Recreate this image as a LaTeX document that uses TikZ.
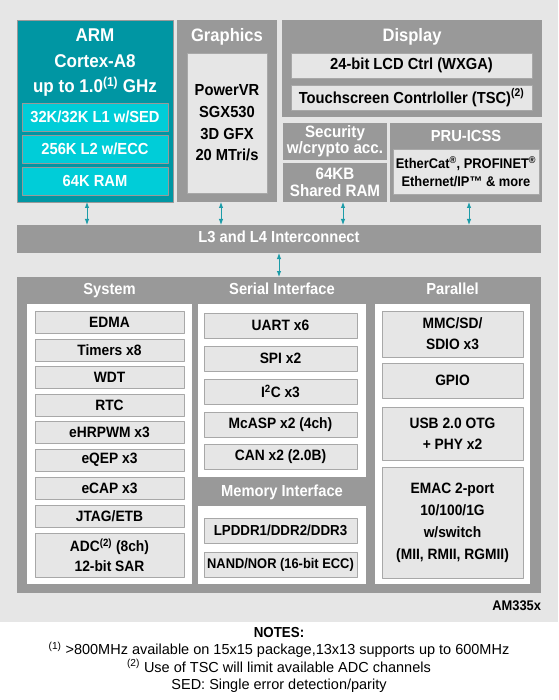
\documentclass[tikz,border=0pt]{standalone}
\usepackage{fontspec}
\setmainfont{Liberation Sans}[FakeStretch=0.92]
\newfontfamily\notefont{Liberation Sans}
\usetikzlibrary{arrows.meta}
\definecolor{bgray}{HTML}{E6E6E6}
\definecolor{pgray}{HTML}{999999}
\definecolor{lgray}{HTML}{E6E6E6}
\definecolor{edgegray}{HTML}{A8A8A8}
\definecolor{armteal}{HTML}{0096A3}
\definecolor{cachecyan}{HTML}{00CDD8}
\definecolor{linkteal}{HTML}{1C9CA8}
\begin{document}
\begin{tikzpicture}[x=1pt, y=-1pt, line cap=round, line join=round,
    every node/.style={inner sep=0pt, outer sep=0pt, font=\bfseries},
    sz/.style 2 args={minimum width=#1pt, minimum height=#2pt, anchor=north west},
    panel/.style={fill=pgray},
    inset/.style={fill=white},
    unit/.style={fill=lgray, draw=edgegray, line width=0.8pt, align=center,
      font=\fontsize{15}{21}\selectfont\bfseries},
    cache/.style={fill=cachecyan, draw=pgray, line width=0.8pt, text=white,
      font=\fontsize{16}{20}\selectfont\bfseries},
    head/.style={text=white, text height=11.5pt, text depth=3.5pt,
      font=\fontsize{16}{20}\selectfont\bfseries},
    bighead/.style={text=white, text height=13pt, text depth=4pt,
      font=\fontsize{18}{22}\selectfont\bfseries},
    link/.style={linkteal, line width=0.9pt,
      {Latex[length=6pt,width=4.5pt]}-{Latex[length=6pt,width=4.5pt]}}]
  \useasboundingbox (0,0) rectangle (558,700);
  \fill[bgray] (0,0) rectangle (558,622);
  % processor
  \node[sz={156}{182}, fill=armteal, draw=pgray, line width=0.8pt] (arm) at (17,20) {};
  \node[text=white, align=center, font=\fontsize{18.5}{25.5}\selectfont\bfseries] (armtitle) at (95,63)
    {ARM\\Cortex-A8\\up to 1.0\textsuperscript{(1)} GHz};
  \node[cache, sz={146}{28}] (l1) at (22,103) {32K/32K L1 w/SED};
  \node[cache, sz={146}{28}] (l2) at (22,135) {256K L2 w/ECC};
  \node[cache, sz={146}{28}] (ram) at (22,167) {64K RAM};
  % graphics
  \node[panel, sz={100}{182}] (gfx) at (177,20) {};
  \node[bighead] (gfxtitle) at (227,37) {Graphics};
  \node[unit, sz={80}{140}, font=\fontsize{16}{21.7}\selectfont\bfseries] (sgx) at (187,53)
    {PowerVR\\SGX530\\3D GFX\\20 MTri/s};
  % display
  \node[panel, sz={260}{97}] (disp) at (282,20) {};
  \node[bighead] (disptitle) at (412,37) {Display};
  \node[unit, sz={241}{25}, font=\fontsize{16}{20}\selectfont\bfseries] (lcd) at (291,53)
    {24-bit LCD Ctrl (WXGA)};
  \node[unit, sz={241}{25}, font=\fontsize{16}{20}\selectfont\bfseries] (tsc) at (291,85)
    {Touchscreen Contrloller (TSC)\textsuperscript{(2)}};
  % security, shared ram, pru
  \node[panel, sz={104}{37}, text=white, align=center, font=\fontsize{16.5}{16}\selectfont\bfseries]
    (sec) at (283,123) {Security\\w/crypto acc.};
  \node[panel, sz={104}{39}, text=white, align=center, font=\fontsize{16.5}{17}\selectfont\bfseries]
    (shram) at (283,163) {64KB\\Shared RAM};
  \node[panel, sz={152}{79}] (pru) at (390,123) {};
  \node[head] (prutitle) at (466,138) {PRU-ICSS};
  \node[unit, sz={146}{45}, font=\fontsize{14}{18}\selectfont\bfseries] (fieldbus) at (393,149)
    {EtherCat\textsuperscript{®}, PROFINET\textsuperscript{®}\\Ethernet/IP™ \& more};
  % interconnect
  \node[panel, head, sz={524}{28}] (ic) at (17,225) {L3 and L4 Interconnect};
  % peripherals
  \node[panel, sz={524}{316}] (periph) at (17,277) {};
  \node[head] (systitle) at (109.5,290) {System};
  \node[head] (sertitle) at (282,290) {Serial Interface};
  \node[head] (partitle) at (452.5,290) {Parallel};
  \node[inset, sz={165}{280}] (sys) at (27,304) {};
  \node[inset, sz={168}{173}] (ser) at (198,304) {};
  \node[head] (memtitle) at (282,492) {Memory Interface};
  \node[inset, sz={168}{78}] (mem) at (198,506) {};
  \node[inset, sz={155}{280}] (par) at (375,304) {};
  \node[unit, sz={149}{22}] (edma) at (35,311) {EDMA};
  \node[unit, sz={149}{22}] (timers) at (35,339) {Timers x8};
  \node[unit, sz={149}{22}] (wdt) at (35,366) {WDT};
  \node[unit, sz={149}{22}] (rtc) at (35,394) {RTC};
  \node[unit, sz={149}{22}] (pwm) at (35,421) {eHRPWM x3};
  \node[unit, sz={149}{22}] (qep) at (35,449) {eQEP x3};
  \node[unit, sz={149}{22}] (cap) at (35,477) {eCAP x3};
  \node[unit, sz={149}{22}] (jtag) at (35,505) {JTAG/ETB};
  \node[unit, sz={149}{44}, font=\fontsize{15}{20}\selectfont\bfseries] (adc) at (35,533)
    {ADC\textsuperscript{(2)} (8ch)\\12-bit SAR};
  \node[unit, sz={153}{25}] (uart) at (204,313) {UART x6};
  \node[unit, sz={153}{25}] (spi) at (204,346) {SPI x2};
  \node[unit, sz={153}{25}] (iic) at (204,379) {I\textsuperscript{2}C x3};
  \node[unit, sz={153}{25}] (mcasp) at (204,412) {McASP x2 (4ch)};
  \node[unit, sz={153}{25}] (can) at (204,444) {CAN x2 (2.0B)};
  \node[unit, sz={153}{25}, font=\fontsize{14.5}{20}\selectfont\bfseries] (ddr) at (204,518) {LPDDR1/DDR2/DDR3};
  \node[unit, sz={153}{25}, font=\fontsize{14}{20}\selectfont\bfseries] (nand) at (204,552) {NAND/NOR (16-bit ECC)};
  \node[unit, sz={141}{46}] (mmc) at (382,311) {MMC/SD/\\SDIO x3};
  \node[unit, sz={141}{35}] (gpio) at (382,363) {GPIO};
  \node[unit, sz={141}{53}] (usb) at (382,407) {USB 2.0 OTG\\+ PHY x2};
  \node[unit, sz={141}{111}, font=\fontsize{15}{22}\selectfont\bfseries] (emac) at (382,467)
    {EMAC 2-port\\10/100/1G\\w/switch\\(MII, RMII, RGMII)};
  % part number and notes
  \node[anchor=east, font=\fontsize{14}{16}\selectfont\bfseries] (part) at (541,606) {AM335x};
  \node[align=center, font=\notefont\fontsize{14.5}{17.3}\selectfont] (notes) at (279,660)
    {{\rmfamily\bfseries NOTES:}\\
     \textsuperscript{(1)} >800MHz available on 15x15 package,13x13 supports up to 600MHz\\
     \textsuperscript{(2)} Use of TSC will limit available ADC channels\\
     SED: Single error detection/parity};
  % connectors
  \coordinate (armport) at ([xshift=-8pt]arm.south);
  \coordinate (gfxport) at ([xshift=-6pt]gfx.south);
  \coordinate (ramport) at ([xshift=8pt]shram.south);
  \coordinate (pruport) at ([xshift=3pt]pru.south);
  \draw[link] (armport) -- (armport |- ic.north);
  \draw[link] (gfxport) -- (gfxport |- ic.north);
  \draw[link] (ramport) -- (ramport |- ic.north);
  \draw[link] (pruport) -- (pruport |- ic.north);
  \draw[link] (ic.south) -- (periph.north);
\end{tikzpicture}
\end{document}
